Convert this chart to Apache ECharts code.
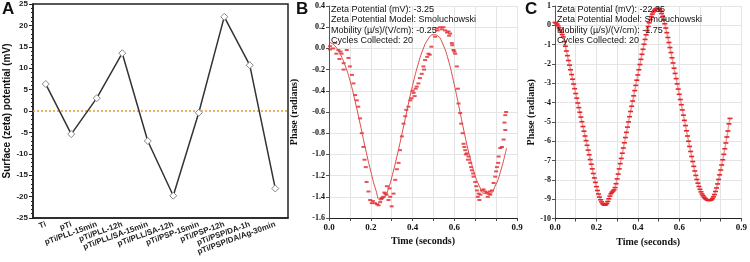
<!DOCTYPE html>
<html>
<head>
<meta charset="utf-8">
<script src="https://cdn.jsdelivr.net/npm/echarts@6/dist/echarts.min.js"></script>
<style>
html, body { margin: 0; padding: 0; background: #fff; }
#main { width: 750px; height: 262px; }
</style>
</head>
<body>
<div id="main"></div>
<script>
// panel A: surface zeta potential per sample
const samples = ['Ti', 'pTi', 'pTi/PLL-15min', 'pTi/PLL-12h', 'pTi/PLL/SA-15min', 'pTi/PLL/SA-12h',
    'pTi/PSP-15min', 'pTi/PSP-12h', 'pTi/PSP/DA-1h', 'pTi/PSP/DA/Ag-30min'];
const zeta = [6.3, -5.4, 3.0, 13.5, -7.0, -19.8, -0.4, 22.0, 10.7, -18.1];

// panel B: measured phase [time, phase]
const phaseB = [
    [0.005, 0.02], [0.005, -0.01], [0.02, 0.0], [0.03, 0.05], [0.035, -0.05], [0.045, -0.015], [0.05, -0.1],
    [0.055, -0.03], [0.06, -0.05], [0.07, -0.14], [0.07, -0.2], [0.085, -0.015], [0.093, -0.09], [0.1, -0.17],
    [0.11, -0.25], [0.117, -0.33], [0.125, -0.44], [0.133, -0.49], [0.14, -0.55], [0.149, -0.66], [0.157, -0.8],
    [0.165, -0.93], [0.17, -1.05], [0.176, -1.12], [0.18, -1.26], [0.189, -1.35], [0.197, -1.43], [0.205, -1.46],
    [0.21, -1.44], [0.22, -1.46], [0.23, -1.47], [0.237, -1.48], [0.245, -1.45], [0.25, -1.42], [0.253, -1.41],
    [0.26, -1.4], [0.265, -1.36], [0.27, -1.37], [0.275, -1.38], [0.277, -1.3], [0.285, -1.43], [0.29, -1.32],
    [0.293, -1.4], [0.3, -1.49], [0.309, -1.37], [0.317, -1.24], [0.325, -1.14], [0.333, -1.08], [0.34, -0.96],
    [0.349, -0.83], [0.357, -0.71], [0.365, -0.64], [0.37, -0.58], [0.38, -0.55], [0.389, -0.49], [0.395, -0.47],
    [0.4, -0.4], [0.405, -0.42], [0.41, -0.45], [0.415, -0.38], [0.42, -0.36], [0.428, -0.33], [0.435, -0.28],
    [0.444, -0.24], [0.452, -0.17], [0.455, -0.2], [0.46, -0.11], [0.47, -0.08], [0.476, -0.05], [0.482, -0.06],
    [0.49, 0.016], [0.508, 0.11], [0.516, 0.19], [0.52, 0.17], [0.532, 0.2], [0.54, 0.18], [0.548, 0.2],
    [0.556, 0.17], [0.565, 0.15], [0.572, 0.16], [0.575, 0.12], [0.58, 0.14], [0.588, 0.05], [0.59, 0.03],
    [0.596, -0.015], [0.6, -0.03], [0.604, -0.05], [0.612, -0.17], [0.617, -0.38], [0.62, -0.52], [0.628, -0.61],
    [0.633, -0.71], [0.64, -0.8], [0.644, -0.9], [0.648, -0.93], [0.652, -0.96], [0.655, -1.0], [0.66, -0.99],
    [0.665, -1.05], [0.668, -1.02], [0.676, -1.08], [0.68, -1.12], [0.684, -1.15], [0.69, -1.18], [0.692, -1.21],
    [0.7, -1.26], [0.705, -1.3], [0.708, -1.34], [0.712, -1.4], [0.716, -1.37], [0.72, -1.43], [0.725, -1.38],
    [0.732, -1.34], [0.74, -1.33], [0.748, -1.35], [0.755, -1.36], [0.76, -1.4], [0.764, -1.37], [0.77, -1.35],
    [0.772, -1.38], [0.78, -1.34], [0.788, -1.27], [0.796, -1.21], [0.8, -1.16], [0.804, -1.12], [0.81, -1.08],
    [0.812, -1.02], [0.82, -0.94], [0.828, -0.93], [0.836, -0.86], [0.84, -0.7], [0.844, -0.77], [0.844, -0.63],
    [0.848, -0.6]
];
// panel B: fitted curve [time, phase]
const fitB = [
    [0.0, 0.06], [0.025, 0.03], [0.05, -0.04], [0.075, -0.15], [0.1, -0.3], [0.125, -0.5], [0.15, -0.72],
    [0.175, -0.95], [0.2, -1.16], [0.225, -1.34], [0.245, -1.43], [0.265, -1.41], [0.285, -1.32], [0.3, -1.22],
    [0.325, -1.02], [0.35, -0.8], [0.375, -0.57], [0.4, -0.35], [0.425, -0.16], [0.45, -0.01], [0.475, 0.09],
    [0.5, 0.13], [0.52, 0.12], [0.545, 0.04], [0.57, -0.1], [0.595, -0.3], [0.62, -0.53], [0.645, -0.77],
    [0.67, -0.99], [0.695, -1.17], [0.72, -1.3], [0.745, -1.37], [0.77, -1.37], [0.795, -1.3], [0.82, -1.17],
    [0.85, -0.94]
];

// panel C: phase sampled every 5 ms from t = 0
const stepC = 0.005;
const phaseC = [
    0.15, 0.12, 0.06, -0.03, -0.13, -0.24, -0.36, -0.48, -0.60, -0.84,
    -1.08, -1.33, -1.57, -1.82, -2.06, -2.30, -2.55, -2.79, -3.04, -3.28,
    -3.53, -3.77, -4.02, -4.26, -4.50, -4.75, -4.99, -5.24, -5.48, -5.73,
    -5.97, -6.21, -6.46, -6.70, -6.95, -7.19, -7.43, -7.67, -7.90, -8.13,
    -8.35, -8.55, -8.73, -8.89, -9.03, -9.14, -9.23, -9.29, -9.31, -9.29,
    -9.22, -9.12, -8.98, -8.84, -8.72, -8.64, -8.58, -8.52, -8.40, -8.20,
    -7.95, -7.70, -7.43, -7.16, -6.89, -6.62, -6.35, -6.08, -5.81, -5.54,
    -5.27, -5.00, -4.73, -4.46, -4.19, -3.92, -3.65, -3.38, -3.11, -2.84,
    -2.57, -2.30, -2.03, -1.76, -1.50, -1.24, -0.98, -0.73, -0.49, -0.27,
    -0.06, 0.13, 0.30, 0.45, 0.58, 0.69, 0.78, 0.84, 0.87, 0.88,
    0.86, 0.81, 0.73, 0.61, 0.46, 0.28, 0.08, -0.14, -0.38, -0.63,
    -0.89, -1.15, -1.41, -1.68, -1.95, -2.22, -2.49, -2.76, -3.03, -3.30,
    -3.57, -3.84, -4.11, -4.38, -4.65, -4.92, -5.19, -5.46, -5.73, -6.00,
    -6.27, -6.53, -6.79, -7.05, -7.30, -7.54, -7.77, -7.98, -8.17, -8.34,
    -8.49, -8.62, -8.73, -8.82, -8.90, -8.96, -9.01, -9.04, -9.06, -9.07,
    -9.06, -9.03, -8.97, -8.88, -8.76, -8.60, -8.42, -8.21, -7.98, -7.74,
    -7.49, -7.23, -6.96, -6.68, -6.39, -6.09, -5.78, -5.47, -5.10, -4.82
];

const infoB = ['Zeta Potential (mV): -3.25', 'Zeta Potential Model: Smoluchowski',
    'Mobility (\u00b5/s)/(V/cm): -0.25', 'Cycles Collected: 20'];
const infoC = ['Zeta Potential (mV): -22.35', 'Zeta Potential Model: Smoluchowski',
    'Mobility (\u00b5/s)/(V/cm): -1.75', 'Cycles Collected: 20'];
const timeLabels = [0, 0.2, 0.4, 0.6, 0.9];

const sans = 'Liberation Sans';
const serif = 'Liberation Serif';
const red = '#e3262b';

const pairsC = phaseC.map((v, i) => [i * stepC, v]);

function timeAxis(idx) {
    return {
        type: 'value', gridIndex: idx, min: 0, max: 0.9, interval: 0.1,
        name: 'Time (seconds)', nameLocation: 'middle', nameGap: 15,
        nameTextStyle: { fontFamily: serif, fontWeight: 'bold', fontSize: 10, color: '#111' },
        axisLine: { onZero: false, lineStyle: { color: '#222', width: 1 } },
        axisTick: { show: true, length: 3, lineStyle: { color: '#444' } },
        axisLabel: {
            fontFamily: serif, fontWeight: 'bold', fontSize: 9, color: '#111', margin: 5,
            formatter: v => {
                const r = Math.round(v * 10) / 10;
                return timeLabels.indexOf(r) >= 0 ? r.toFixed(1) : '';
            }
        },
        splitLine: { show: true, lineStyle: { color: '#e4e4e4', width: 1 } }
    };
}

function phaseAxis(idx, min, max, step, gap, digits) {
    return {
        type: 'value', gridIndex: idx, min: min, max: max, interval: step,
        name: 'Phase (radians)', nameLocation: 'middle', nameGap: gap,
        nameTextStyle: { fontFamily: serif, fontWeight: 'bold', fontSize: 10, color: '#111' },
        axisLine: { show: true, onZero: false, lineStyle: { color: '#555', width: 1 } },
        axisTick: { show: true, length: 3, lineStyle: { color: '#555' } },
        axisLabel: {
            fontFamily: serif, fontWeight: 'bold', fontSize: 8, color: '#111', margin: 4,
            formatter: v => (Math.round(v * 10) / 10).toFixed(digits)
        },
        splitLine: { show: true, lineStyle: { color: '#e4e4e4', width: 1 } }
    };
}

function infoText(x, lines) {
    return lines.map((t, i) => ({
        type: 'text', left: x, top: 5 + i * 10.5, z: 100,
        style: { text: t, fontFamily: sans, fontSize: 9, fill: '#111' }
    }));
}

const chart = echarts.init(document.getElementById('main'), null, { renderer: 'canvas' });

chart.setOption({
    animation: false,
    backgroundColor: '#fff',
    grid: [
        { left: 33, top: 4, width: 255, height: 214, show: true, borderColor: '#222', borderWidth: 1.5 },
        { left: 329, top: 6, width: 188, height: 212 },
        { left: 555, top: 6, width: 189, height: 212.5 }
    ],
    xAxis: [
        {
            type: 'category', gridIndex: 0, data: samples, boundaryGap: true,
            axisLine: { onZero: false, lineStyle: { color: '#222', width: 1.5 } },
            axisTick: { alignWithLabel: true, length: 4, lineStyle: { color: '#222' } },
            axisLabel: {
                interval: 0, rotate: 20, fontFamily: sans, fontWeight: 'bold', fontSize: 8,
                color: '#222', margin: 6
            }
        },
        timeAxis(1),
        timeAxis(2)
    ],
    yAxis: [
        {
            type: 'value', gridIndex: 0, min: -25, max: 25, interval: 5,
            name: 'Surface (zeta) potential (mV)', nameLocation: 'middle', nameGap: 21,
            nameTextStyle: { fontFamily: sans, fontWeight: 'bold', fontSize: 10, color: '#111' },
            axisLine: { show: true, onZero: false, lineStyle: { color: '#222', width: 1.5 } },
            axisTick: { show: true, length: 4, lineStyle: { color: '#222' } },
            minorTick: { show: true, splitNumber: 5, length: 2, lineStyle: { color: '#222' } },
            axisLabel: { fontFamily: sans, fontWeight: 'bold', fontSize: 8, color: '#222', margin: 5 },
            splitLine: { show: false }
        },
        phaseAxis(1, -1.6, 0.4, 0.2, 30, 1),
        phaseAxis(2, -10, 1, 1, 19, 0)
    ],
    graphic: [
        { type: 'text', left: 2, top: 1, style: { text: 'A', fontFamily: sans, fontWeight: 'bold', fontSize: 17, fill: '#111' } },
        { type: 'text', left: 296, top: 1, style: { text: 'B', fontFamily: sans, fontWeight: 'bold', fontSize: 17, fill: '#111' } },
        { type: 'text', left: 525, top: 1, style: { text: 'C', fontFamily: sans, fontWeight: 'bold', fontSize: 17, fill: '#111' } }
    ].concat(infoText(331, infoB), infoText(557, infoC)),
    series: [
        {
            type: 'line', xAxisIndex: 0, yAxisIndex: 0, data: zeta,
            symbol: 'diamond', symbolSize: 7,
            itemStyle: { color: '#fff', borderColor: '#888', borderWidth: 1 },
            lineStyle: { color: '#333', width: 1.5 },
            z: 5,
            markLine: {
                silent: true, symbol: 'none', label: { show: false },
                lineStyle: { type: [2, 2], color: '#e89a2c', width: 1.5, opacity: 1 },
                emphasis: { disabled: true },
                data: [{ yAxis: 0, lineStyle: { type: [2, 2], color: '#e89a2c', width: 1.5 } }]
            }
        },
        {
            type: 'line', xAxisIndex: 1, yAxisIndex: 1, data: fitB,
            showSymbol: false, smooth: true,
            lineStyle: { color: '#dd4a4a', width: 1 }
        },
        {
            type: 'scatter', xAxisIndex: 1, yAxisIndex: 1, data: phaseB,
            symbol: 'rect', symbolSize: [4, 2],
            itemStyle: { color: red }
        },
        {
            type: 'line', xAxisIndex: 2, yAxisIndex: 2, data: pairsC,
            symbol: 'rect', symbolSize: [5, 1.6], showAllSymbol: true,
            itemStyle: { color: red },
            lineStyle: { color: '#f29a9a', width: 1.5 }
        }
    ]
});
</script>
</body>
</html>
